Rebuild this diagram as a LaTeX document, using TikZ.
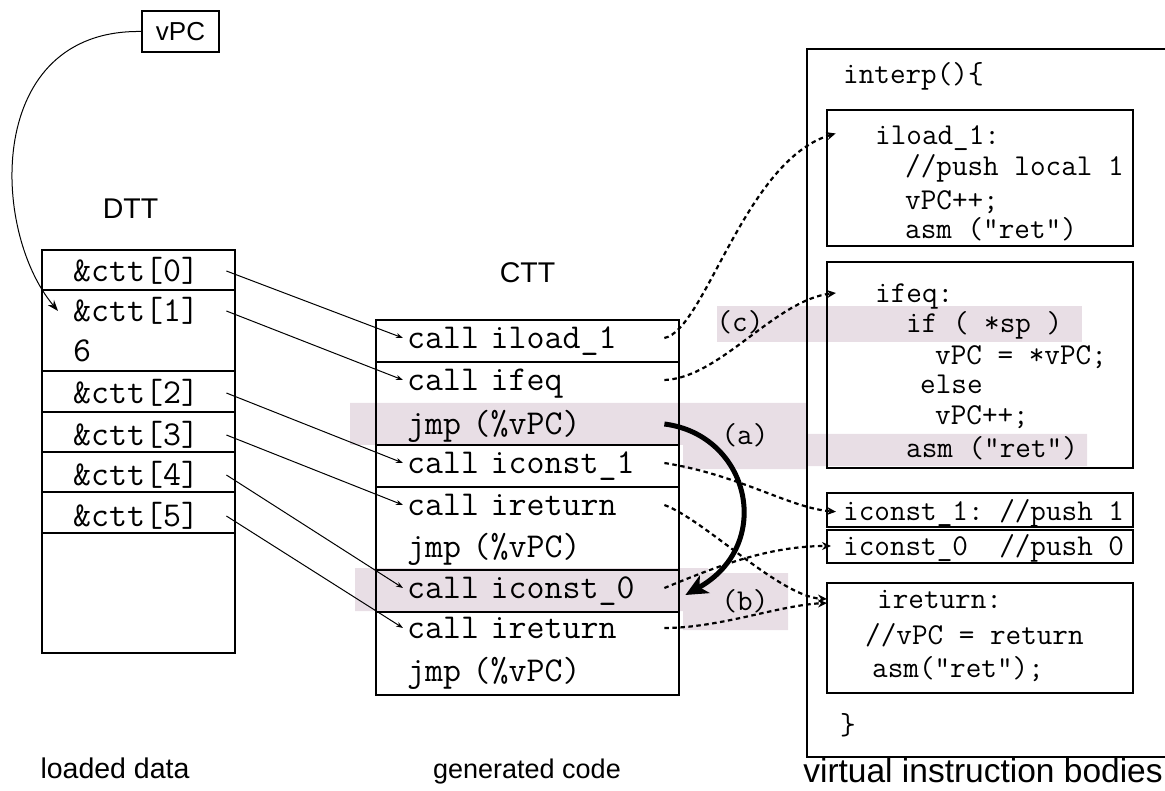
\documentclass[tikz,border=0pt]{standalone}
\usepackage{fontspec}
\setmainfont{Liberation Sans}
\setsansfont{Liberation Sans}
\usetikzlibrary{positioning,arrows.meta}

\definecolor{hilite}{RGB}{232,222,229}
\newcommand{\bigtt}{\fontsize{34.9}{40}\selectfont\ttfamily\frenchspacing}
\newcommand{\codett}{\fontsize{30.3}{36}\selectfont\ttfamily\frenchspacing}
\newcommand{\lblsf}{\fontsize{28.5}{34}\selectfont\sffamily}

\tikzset{
  tbl/.style={draw, line width=2.6pt, inner sep=0pt, outer sep=0pt, anchor=north west},
  body/.style={draw, line width=1.3pt, inner sep=0pt, outer sep=0pt, anchor=north west, minimum width=306pt},
  cell/.style={font=\bigtt, anchor=west, align=left, inner xsep=4pt, inner ysep=0pt, text height=25pt, text depth=4.5pt},
  dcell/.style={cell, text width=149pt},
  ccell/.style={cell, text width=253pt},
  code/.style={font=\codett, anchor=west, inner sep=0pt, text height=22pt, text depth=4pt},
  lbl/.style={font=\lblsf, inner sep=0pt},
  ptr/.style={-{Stealth[length=7pt,width=5pt]}, line width=1pt},
  dptr/.style={-{Stealth[length=9pt,width=8pt]}, line width=2.2pt, dash pattern=on 4.5pt off 3.5pt},
  jump/.style={-{Stealth[length=22pt,width=20pt,inset=6pt]}, line width=5pt},
}

\begin{document}
\begin{tikzpicture}[x=1pt,y=-1pt]
\useasboundingbox (0,0) rectangle (1165,791);

% highlighted paths
\fill[hilite] (717,306) rectangle (1082,342);
\fill[hilite] (350,403) rectangle (683,445) (683,403) rectangle (807,469) (807,434) rectangle (1087,466);
\fill[hilite] (355,568) rectangle (708,611) (683,573) rectangle (788,630);

\node[draw, line width=1.2pt, font=\fontsize{26}{30}\selectfont\sffamily, minimum width=77pt, minimum height=41pt, inner sep=0pt] (vpc) at (180.5,31.5) {vPC};

% DTT
\node[tbl, minimum width=193pt, minimum height=403pt] (dtt) at (42,250) {};
\foreach \y in {290,371,412,452,492,533}
  \draw[line width=2.6pt] (42,\y) -- (235,\y);
\node[lbl, above=31pt of dtt, xshift=-8pt] (dttlbl) {DTT};
\node[dcell] (d0) at (69,271) {\&ctt[0]};
\node[dcell] (d1) at (69,311) {\&ctt[1]};
\node[dcell] (dsix) at (69,351) {6};
\node[dcell] (d2) at (69,393) {\&ctt[2]};
\node[dcell] (d3) at (69,435) {\&ctt[3]};
\node[dcell] (d4) at (69,475) {\&ctt[4]};
\node[dcell] (d5) at (69,516) {\&ctt[5]};

% CTT
\node[tbl, minimum width=303pt, minimum height=375pt] (ctt) at (376,320) {};
\foreach \y in {362,445,487,570,612}
  \draw[line width=2.6pt] (376,\y) -- (679,\y);
\node[lbl, above=37pt of ctt] (cttlbl) {CTT};
\node[ccell] (c1) at (403,338) {call iload\_1};
\node[ccell] (c2) at (403,380) {call ifeq};
\node[ccell] (c3) at (403,424) {jmp (\%vPC)};
\node[ccell] (c4) at (403,463) {call iconst\_1};
\node[ccell] (c5) at (403,505) {call ireturn};
\node[ccell] (c6) at (403,547) {jmp (\%vPC)};
\node[ccell] (c7) at (403,588) {call iconst\_0};
\node[ccell] (c8) at (403,628) {call ireturn};
\node[ccell] (c9) at (403,671) {jmp (\%vPC)};

% interpreter bodies
\draw[line width=1.3pt] (1170,49) -| (807,757) -- (1170,757);
\node[code] (interp) at (843,75) {interp()\{};
\node[body, minimum height=136pt] (bIload) at (827,110) {};
\node[body, minimum height=206pt] (bIfeq) at (827,262) {};
\node[body, minimum height=34pt] (bIc1) at (827,493) {};
\node[body, minimum height=33pt] (bIc0) at (827,530) {};
\node[body, minimum height=110pt] (bIret) at (827,583) {};

\node[code] (tIload) at (875,136) {iload\_1:};
\node[code] (tIload2) at (905,167) {//push local 1};
\node[code] (tIload3) at (905,201) {vPC++;};
\node[code] (tIload4) at (905,230) {asm ("ret")};

\node[code] (tIfeq) at (875,294) {ifeq:};
\node[code] (tIfeq2) at (906,324) {if ( *sp )};
\node[code] (tIfeq3) at (935,356) {vPC = *vPC;};
\node[code] (tIfeq4) at (920,385) {else};
\node[code] (tIfeq5) at (935,416) {vPC++;};
\node[code] (tIfeq6) at (906,448) {asm ("ret")};

\node[code] (tIc1) at (843,511) {iconst\_1: //push 1};
\node[code] (tIc0) at (843,546) {iconst\_0\ \ //push 0};

\node[code] (tIret) at (877,599) {ireturn:};
\node[code] (tIret2) at (865,635) {//vPC = return};
\node[code] (tIret3) at (872,668) {asm("ret");};
\node[code] (close) at (840,725) {\}};

\node[code, anchor=center] (la) at (745,436) {(a)};
\node[code, anchor=center] (lb) at (745,601) {(b)};
\node[code, anchor=center] (lc) at (740,323) {(c)};

\node[lbl, anchor=base] (ldata) at (115,778) {loaded data};
\node[lbl, anchor=base, font=\fontsize{27}{32}\selectfont\sffamily] (gcode) at (527,778) {generated code};
\node[lbl, anchor=base, font=\fontsize{33.5}{40}\selectfont\sffamily] (vbody) at (983,782) {virtual instruction bodies};

% pointers
\draw[ptr, -{Stealth[length=11pt,width=8pt]}] (vpc.west) .. controls (-15,29) and (-10,230) .. ([xshift=-11pt]d1.west);
\draw[ptr] (d0.east) -- (c1.west);
\draw[ptr] (d1.east) -- (c2.west);
\draw[ptr] (d2.east) -- (c4.west);
\draw[ptr] (d3.east) -- (c5.west);
\draw[ptr] (d4.east) -- (c7.west);
\draw[ptr] (d5.east) -- (c8.west);

\draw[dptr, shorten >=-9pt] (c1.east) .. controls (705,330) and (745,160) .. (bIload.west |- tIload);
\draw[dptr, shorten >=-9pt] (c2.east) .. controls (720,378) and (775,300) .. (bIfeq.west |- tIfeq);
\draw[dptr, shorten >=-9pt] (c4.east) .. controls (740,475) and (790,508) .. (bIc1.west |- tIc1);
\draw[dptr] (c5.east) .. controls (705,520) and (780,597) .. (bIret.west |- tIret);
\draw[dptr, shorten >=-4pt] (c7.east) .. controls (720,565) and (770,546) .. (bIc0.west |- tIc0);
\draw[dptr] (c8.east) .. controls (720,628) and (780,605) .. ([yshift=-4pt]bIret.west |- tIret);

\draw[jump] (c3.east) .. controls (750,435) and (775,545) .. ([xshift=21pt,yshift=-7pt]c7.east);
\end{tikzpicture}
\end{document}
